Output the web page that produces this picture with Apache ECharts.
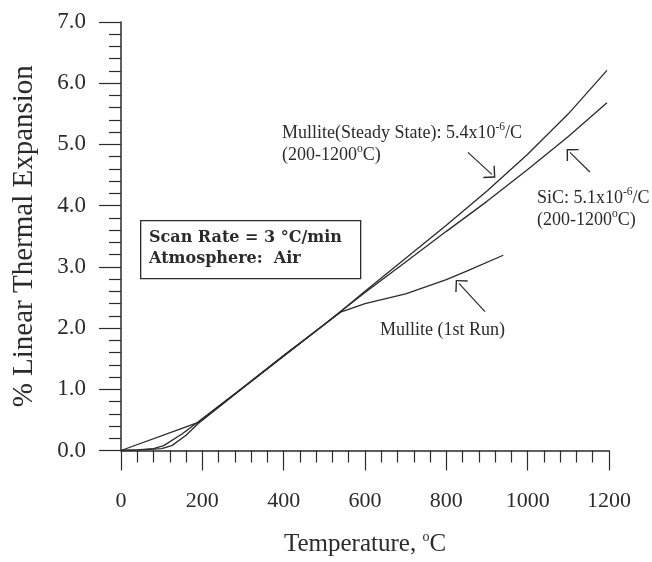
<!DOCTYPE html>
<html>
<head>
<meta charset="utf-8">
<title>Thermal Expansion</title>
<script src="https://cdn.jsdelivr.net/npm/echarts@6/dist/echarts.min.js"></script>
<style>
    html, body { margin: 0; padding: 0; background: #fff; }
    #main { width: 652px; height: 562px; }
</style>
</head>
<body>
<div id="main"></div>
<script>
    // Mullite (steady state)
    var steadyTemp = [0, 40, 80, 105, 150, 190, 300, 400, 500, 540, 600, 700, 800, 900, 1000, 1100, 1195];
    var steadyVal = [0, 0.01, 0.03, 0.08, 0.27, 0.47, 1.03, 1.55, 2.06, 2.27, 2.60, 3.14, 3.68, 4.24, 4.84, 5.50, 6.21];
    // SiC
    var sicTemp = [0, 50, 100, 125, 160, 190, 300, 400, 500, 540, 600, 700, 800, 900, 1000, 1100, 1195];
    var sicVal = [0, 0.01, 0.03, 0.08, 0.25, 0.44, 1.02, 1.54, 2.06, 2.27, 2.58, 3.08, 3.58, 4.07, 4.59, 5.13, 5.68];
    // Mullite (1st run)
    var firstTemp = [0, 150, 190, 300, 400, 500, 540, 600, 700, 800, 850, 940];
    var firstVal = [0, 0.36, 0.46, 1.03, 1.55, 2.06, 2.26, 2.40, 2.56, 2.79, 2.93, 3.19];

    // arrows (tail -> tip, data units)
    var arrowTails = [[853, 4.87], [1153, 4.55], [895, 2.27]];
    var arrowTips = [[912, 4.51], [1104, 4.87], [831, 2.73]];

    function pairs(xs, ys) {
        var out = [];
        for (var i = 0; i < xs.length; i++) out.push([xs[i], ys[i]]);
        return out;
    }

    var chevron = 'path://M0,0 L8.5,8.5 L7.5,9.5 L0,2 L-7.5,9.5 L-8.5,8.5 Z';
    var arrowData = [];
    for (var i = 0; i < arrowTails.length; i++) {
        arrowData.push([{coord: arrowTails[i]}, {coord: arrowTips[i]}]);
    }

    var serif = 'Liberation Serif';
    var ink = '#2b2b2b';
    var sup = {fontSize: 11.5, fontFamily: serif, color: ink, padding: [0, 0, 12, 0]};
    var noteFont = '18px "Liberation Serif"';

    var chart = echarts.init(document.getElementById('main'));
    var lineStyle = {color: ink, width: 1.3};
    var option = {
        animation: false,
        grid: {left: 121, right: 43, top: 22, bottom: 109},
        xAxis: {
            type: 'value',
            min: 0, max: 1200, interval: 200,
            name: 'Temperature, {s|o}C',
            nameLocation: 'middle',
            nameGap: 80,
            nameTextStyle: {
                fontFamily: serif, fontSize: 25, color: ink,
                rich: {s: {fontSize: 14, fontFamily: serif, color: ink, padding: [0, 0, 14, 0]}}
            },
            axisLine: {lineStyle: {color: ink, width: 1.5}},
            axisTick: {length: 20, lineStyle: {color: ink, width: 1.2}},
            minorTick: {show: true, splitNumber: 5, length: 12, lineStyle: {color: ink, width: 1.2}},
            splitLine: {show: false},
            axisLabel: {
                fontFamily: serif, fontSize: 22, color: ink, margin: 40,
                formatter: function (v) { return String(v); }
            }
        },
        yAxis: {
            type: 'value',
            min: 0, max: 7, interval: 1,
            name: '% Linear Thermal Expansion',
            nameLocation: 'middle',
            nameGap: 82,
            nameTextStyle: {fontFamily: serif, fontSize: 29, color: ink},
            axisLine: {show: true, lineStyle: {color: ink, width: 1.5}},
            axisTick: {length: 22, lineStyle: {color: ink, width: 1.2}},
            minorTick: {show: true, splitNumber: 5, length: 12, lineStyle: {color: ink, width: 1.2}},
            splitLine: {show: false},
            axisLabel: {
                fontFamily: serif, fontSize: 23, color: ink, margin: 35,
                formatter: function (v) { return v.toFixed(1); }
            }
        },
        series: [
            {
                name: 'Mullite (Steady State)', type: 'line', showSymbol: false,
                data: pairs(steadyTemp, steadyVal), lineStyle: lineStyle
            },
            {
                name: 'SiC', type: 'line', showSymbol: false,
                data: pairs(sicTemp, sicVal), lineStyle: lineStyle
            },
            {
                name: 'Mullite (1st Run)', type: 'line', showSymbol: false,
                data: pairs(firstTemp, firstVal), lineStyle: lineStyle,
                markLine: {
                    silent: true,
                    symbol: ['none', chevron],
                    symbolSize: [17, 9.5],
                    label: {show: false},
                    lineStyle: {color: ink, width: 1.2, type: 'solid'},
                    data: arrowData
                }
            }
        ],
        graphic: [
            {
                type: 'text', left: 282, top: 121,
                style: {
                    text: 'Mullite(Steady State): 5.4x10{s|-6}/C',
                    font: noteFont, fill: ink,
                    rich: {s: sup}
                }
            },
            {
                type: 'text', left: 282, top: 143,
                style: {text: '(200-1200{s|o}C)', font: noteFont, fill: ink, rich: {s: sup}}
            },
            {
                type: 'text', left: 537, top: 186,
                style: {text: 'SiC: 5.1x10{s|-6}/C', font: noteFont, fill: ink, rich: {s: sup}}
            },
            {
                type: 'text', left: 537, top: 208,
                style: {text: '(200-1200{s|o}C)', font: noteFont, fill: ink, rich: {s: sup}}
            },
            {
                type: 'text', left: 380, top: 321,
                style: {text: 'Mullite (1st Run)', font: noteFont, fill: ink}
            },
            {
                type: 'rect', left: 140, top: 220,
                shape: {width: 220, height: 58},
                style: {fill: '#fff', stroke: ink, lineWidth: 1.3}
            },
            {
                type: 'text', left: 149, top: 230,
                style: {text: 'Scan Rate = 3 \u00b0C/min', font: 'bold 16px "DejaVu Serif"', fill: ink}
            },
            {
                type: 'text', left: 149, top: 251,
                style: {text: 'Atmosphere:  Air', font: 'bold 16px "DejaVu Serif"', fill: ink}
            }
        ]
    };
    chart.setOption(option);
    window.addEventListener('resize', function () {
        chart.resize();
    });
</script>
</body>
</html>
